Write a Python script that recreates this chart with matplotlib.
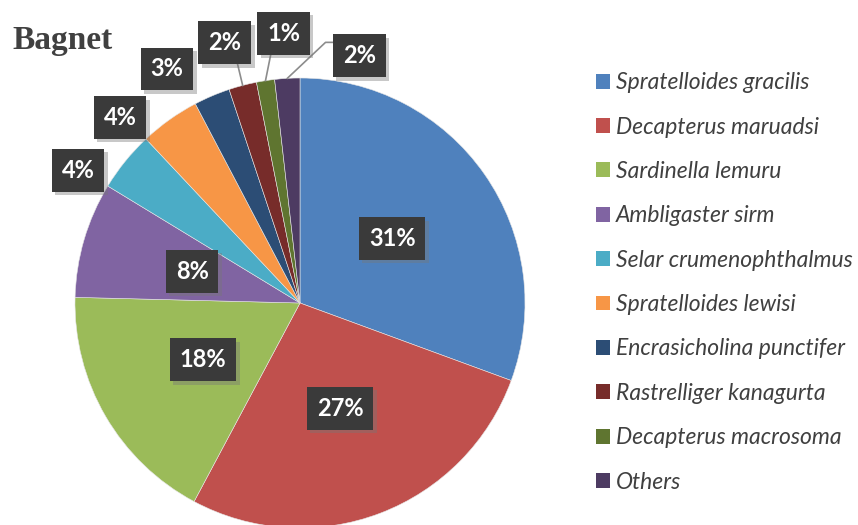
import numpy as np
import matplotlib.pyplot as plt
from matplotlib.patches import Patch
import matplotlib.patheffects as pe

# share of catch per species (Bagnet)
species = ["Spratelloides gracilis", "Decapterus maruadsi", "Sardinella lemuru",
           "Ambligaster sirm", "Selar crumenophthalmus", "Spratelloides lewisi",
           "Encrasicholina punctifer", "Rastrelliger kanagurta",
           "Decapterus macrosoma", "Others"]
shares = [30.6, 27.2, 17.6, 8.3, 4.3, 4.3, 2.6, 2.0, 1.3, 1.8]
colors = ["#4F81BD", "#C0504D", "#9BBB59", "#8064A2", "#4BACC6",
          "#F79646", "#2C4D75", "#772C2A", "#5F7530", "#4D3B62"]

# label placement: None -> inside at half radius, else offset (dx, dy) from rim
# in radius units, plus whether a leader line is drawn
label_off = [None, None, None, None,
             (-0.21, -0.04), (-0.22, 0.01), (-0.20, 0.12),
             (-0.08, 0.19), (0.08, 0.21), (0.32, 0.10)]
leader = [False] * 7 + [True, True, True]

W, H = 858, 525
fig = plt.figure(figsize=(W / 100, H / 100), dpi=100)
R = 225
cx, cy = 300, 303
ax = fig.add_axes([(cx - R) / W, (H - cy - R) / H, 2 * R / W, 2 * R / H])

wedges, _ = ax.pie(shares, colors=colors, startangle=90, counterclock=False,
                   radius=1, wedgeprops=dict(linewidth=0.4, edgecolor="#e6e6e6"))
ax.set_xlim(-1, 1)
ax.set_ylim(-1, 1)
ax.set_aspect("equal")
ax.axis("off")

total = sum(shares)
cum = np.cumsum([0] + shares)
hw, hh = 0.11, 0.09  # half size of a label box in radius units

for i, v in enumerate(shares):
    mid = (cum[i] + v / 2) / total * 360
    th = np.deg2rad(90 - mid)
    ex, ey = np.cos(th), np.sin(th)
    if label_off[i] is None:
        lx, ly = 0.5 * ex, 0.5 * ey
    else:
        lx, ly = ex + label_off[i][0], ey + label_off[i][1]
        if leader[i]:
            if lx > ex + hw:
                # elbow line going to the left side of the box
                px = [ex, lx - hw - 0.04, lx - hw]
                py = [ey, ly + 0.06, ly + 0.06]
            else:
                px = [ex, ex + 0.3 * (lx - ex)]
                py = [ey, ly - hh]
            ax.plot(px, py, color="#8c8c8c", lw=1.2, clip_on=False, zorder=3)
    t = ax.text(lx, ly, "%d%%" % round(v / total * 100), ha="center", va="center",
                fontsize=17, fontweight="bold", family="Lato", color="white",
                zorder=5,
                bbox=dict(boxstyle="square,pad=0.42", fc="#3a3a3a", ec="none", lw=0))
    t.get_bbox_patch().set_path_effects(
        [pe.SimplePatchShadow(offset=(2.5, -2.5), shadow_rgbFace="#777777", alpha=0.4),
         pe.Normal()])

fig.text(12 / W, 1 - 41 / H, "Bagnet", family="Liberation Serif", fontweight="bold",
         fontsize=24, color="#404040", va="center", ha="left")

handles = [Patch(facecolor=c, edgecolor="none") for c in colors]
leg = fig.legend(handles, species, loc="upper left",
                 bbox_to_anchor=(587 / W, 1 - 63 / H), frameon=False,
                 prop=dict(family="Lato", style="italic", size=16.5),
                 handlelength=0.62, handleheight=0.62, handletextpad=0.25,
                 labelspacing=1.02, borderaxespad=0)
for txt in leg.get_texts():
    txt.set_color("#404040")

fig.savefig("out.png", dpi=100)
